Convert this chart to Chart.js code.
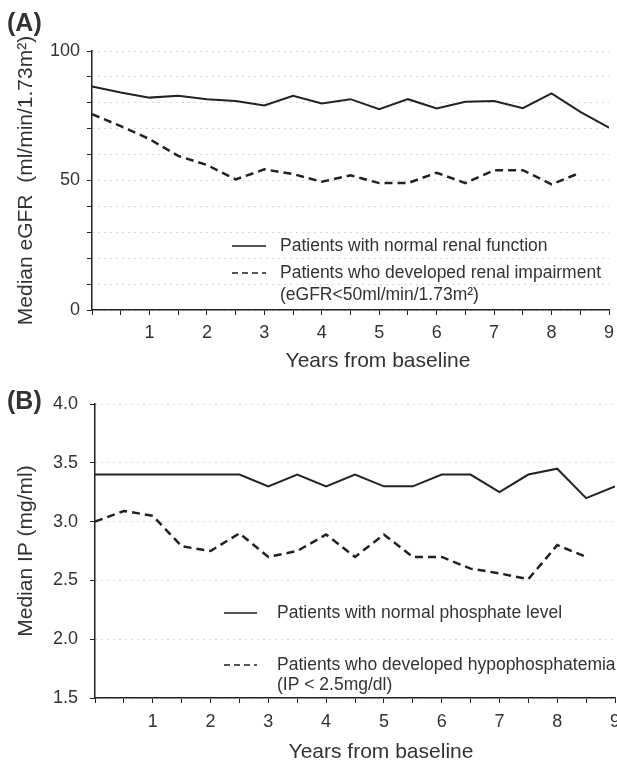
<!DOCTYPE html>
<html>
<head>
<meta charset="utf-8">
<script src="https://cdn.jsdelivr.net/npm/chart.js@4.4.0/dist/chart.umd.min.js"></script>
<style>
  body { margin: 0; background: #fff; }
  canvas { position: absolute; left: 0; }
  #chartA { top: 0; }
  #chartB { top: 380px; }
</style>
</head>
<body>
<canvas id="chartA" width="617" height="380"></canvas>
<canvas id="chartB" width="617" height="382"></canvas>
<script>
// years from baseline, every half year
const years = [0, 0.5, 1, 1.5, 2, 2.5, 3, 3.5, 4, 4.5, 5, 5.5, 6, 6.5, 7, 7.5, 8, 8.5, 9];

// (A) median eGFR
const egfrNormal = [86.3, 84, 82, 82.7, 81.4, 80.7, 79, 82.7, 79.7, 81.4, 77.5, 81.4, 77.8, 80.4, 80.7, 77.9, 83.6, 76.5, 70.4];
const egfrImpaired = [75.6, 71, 66, 59.5, 56, 50.4, 54.3, 52.5, 49.5, 52, 49, 49, 53, 49, 54, 54, 48.5, 53, null];

// (B) median IP
const ipNormal = [3.4, 3.4, 3.4, 3.4, 3.4, 3.4, 3.3, 3.4, 3.3, 3.4, 3.3, 3.3, 3.4, 3.4, 3.25, 3.4, 3.45, 3.2, 3.3];
const ipHypo = [3.0, 3.09, 3.05, 2.79, 2.75, 2.9, 2.7, 2.75, 2.89, 2.7, 2.89, 2.7, 2.7, 2.6, 2.56, 2.51, 2.8, 2.7, null];

const xTitle = 'Years from baseline';
const yTitleA = 'Median eGFR  (ml/min/1.73m²)';
const yTitleB = 'Median IP (mg/ml)';
const legendA = ['Patients with normal renal function', 'Patients who developed renal impairment', '(eGFR<50ml/min/1.73m²)'];
const legendB = ['Patients with normal phosphate level', 'Patients who developed hypophosphatemia', '(IP < 2.5mg/dl)'];

const FONT = '"Liberation Sans", Arial, sans-serif';
Chart.defaults.font.family = FONT;
Chart.defaults.color = '#333';

function toPoints(vals) {
  return years.map((x, i) => ({ x: x, y: vals[i] }));
}

// panel letter, x caption and the legend drawn inside the plot
function annotations(n) {
  return {
    id: 'annotations',
    afterDraw(chart) {
      const ctx = chart.ctx;
      ctx.save();
      ctx.fillStyle = '#333';
      ctx.textBaseline = 'middle';
      ctx.textAlign = 'left';
      ctx.font = 'bold 25px ' + FONT;
      ctx.fillText(n.panel, n.panelX, n.panelY);

      ctx.font = '21px ' + FONT;
      ctx.textAlign = 'center';
      ctx.fillText(xTitle, n.titleX, n.titleY);

      ctx.font = '17.5px ' + FONT;
      ctx.textAlign = 'left';
      n.legend.forEach((t, i) => ctx.fillText(t, n.textX, n.rows[i]));

      ctx.strokeStyle = '#555';
      ctx.lineWidth = 2;
      ctx.beginPath();
      ctx.moveTo(n.lineX[0], n.rows[0]);
      ctx.lineTo(n.lineX[1], n.rows[0]);
      ctx.stroke();
      ctx.setLineDash([6, 4]);
      ctx.beginPath();
      ctx.moveTo(n.lineX[0], n.rows[1]);
      ctx.lineTo(n.lineX[1], n.rows[1]);
      ctx.stroke();
      ctx.restore();
    }
  };
}

function buildChart(id, normal, other, y, frame, notes) {
  return new Chart(document.getElementById(id), {
    type: 'line',
    data: {
      datasets: [
        { data: toPoints(normal), borderColor: '#222', borderWidth: 2, pointRadius: 0, tension: 0 },
        { data: toPoints(other), borderColor: '#222', borderWidth: 2.5, borderDash: [8, 5], pointRadius: 0, tension: 0 }
      ]
    },
    options: {
      responsive: false,
      animation: false,
      layout: { padding: { left: 0, top: frame.top, right: frame.right, bottom: 0 } },
      plugins: { legend: { display: false }, tooltip: { enabled: false } },
      scales: {
        x: {
          type: 'linear',
          min: 0,
          max: 9,
          ticks: {
            stepSize: 0.5,
            autoSkip: false,
            maxRotation: 0,
            padding: frame.xPad,
            font: { size: 18 },
            callback: v => (Number.isInteger(v) && v > 0 ? v : '')
          },
          grid: { drawOnChartArea: false, tickLength: 5, tickColor: '#222' },
          border: { color: '#222', width: 1.5 },
          afterFit: s => { s.height = frame.xHeight; s.paddingLeft = 0; s.paddingRight = 0; }
        },
        y: {
          min: y.min,
          max: y.max,
          ticks: { stepSize: y.step, padding: frame.yPad, font: { size: 18 }, callback: y.label },
          grid: { color: '#b0b0b0', tickLength: 5, tickColor: '#222' },
          border: { color: '#222', width: 1.5, dash: [1, 5] },
          title: { display: true, text: y.title, font: { size: 21 }, padding: { top: 14, bottom: 0 } },
          afterFit: s => { s.width = frame.yWidth; s.paddingTop = 0; s.paddingBottom = 0; }
        }
      }
    },
    plugins: [annotations(notes)]
  });
}

buildChart('chartA', egfrNormal, egfrImpaired,
  { min: 0, max: 100, step: 10, title: yTitleA, label: v => (v % 50 === 0 ? v : '') },
  { top: 51, right: 8, yWidth: 92, xHeight: 70, xPad: 7, yPad: 7 },
  { panel: '(A)', panelX: 7, panelY: 24, titleX: 378, titleY: 361,
    legend: legendA, textX: 280, rows: [246, 273, 295], lineX: [232, 266] });

buildChart('chartB', ipNormal, ipHypo,
  { min: 1.5, max: 4.0, step: 0.5, title: yTitleB, label: v => v.toFixed(1) },
  { top: 24, right: 2, yWidth: 95, xHeight: 64, xPad: 8, yPad: 12 },
  { panel: '(B)', panelX: 7, panelY: 22, titleX: 381, titleY: 372,
    legend: legendB, textX: 277, rows: [233, 285, 305], lineX: [224, 257] });
</script>
</body>
</html>
